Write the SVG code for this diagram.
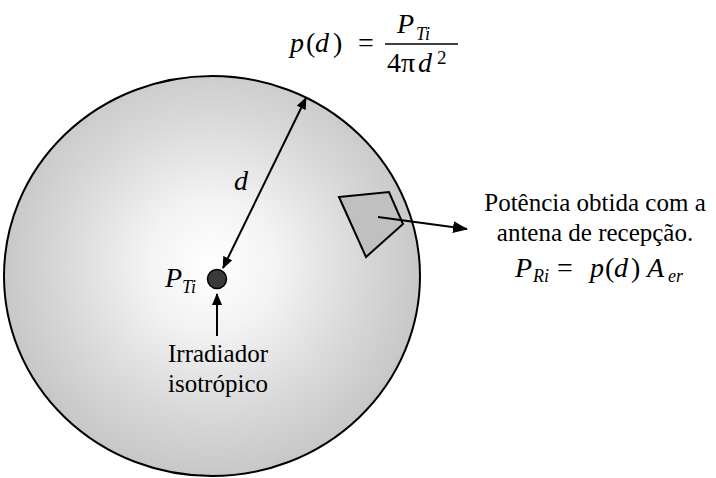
<svg xmlns="http://www.w3.org/2000/svg" width="716" height="478" viewBox="0 0 716 478">
<style>
text{font-family:'Liberation Serif','Times New Roman',serif;fill:#000}
.i{font-style:italic}
.ln{stroke:#000;stroke-width:2;fill:none}
</style>
<defs>
<radialGradient id="g" cx="212" cy="265" r="215" gradientUnits="userSpaceOnUse">
<stop offset="0" stop-color="#ffffff"/>
<stop offset="0.3" stop-color="#f3f3f3"/>
<stop offset="0.7" stop-color="#d8d8d8"/>
<stop offset="1" stop-color="#c6c6c6"/>
</radialGradient>
<marker id="ah" viewBox="0 0 12 10" refX="11" refY="5" markerWidth="12" markerHeight="10" markerUnits="userSpaceOnUse" orient="auto-start-reverse">
<path d="M0,0 L12,5 L0,10 Z" fill="#000"/>
</marker>
<marker id="ah2" viewBox="0 0 15 12" refX="14" refY="6" markerWidth="15" markerHeight="12" markerUnits="userSpaceOnUse" orient="auto">
<path d="M0,0 L15,6 L0,12 Z" fill="#000"/>
</marker>
</defs>
<rect width="716" height="478" fill="#fff"/>
<g id="sphere">
<ellipse cx="212" cy="276" rx="208" ry="200" fill="url(#g)" stroke="#000" stroke-width="2"/>
</g>
<g id="antenna">
<polygon points="339,197 389,192 403,224 366,257" fill="#c0c0c0" stroke="#000" stroke-width="2"/>
</g>
<g id="source">
<circle cx="217" cy="279" r="9.5" fill="#3a3a3a" stroke="#000" stroke-width="1.5"/>
<text class="i" x="165" y="287" font-size="28">P</text>
<text class="i" x="182" y="293" font-size="18">Ti</text>
</g>
<g id="connectors">
<line class="ln" x1="306" y1="98" x2="223" y2="268" marker-start="url(#ah)" marker-end="url(#ah)"/>
<line class="ln" x1="217" y1="336" x2="217" y2="294" marker-end="url(#ah)"/>
<line class="ln" x1="378" y1="217" x2="467" y2="229" marker-end="url(#ah2)"/>
</g>
<g id="label-d">
<text class="i" x="234" y="190" font-size="28">d</text>
</g>
<g id="formula-top">
<text class="i" x="290" y="52" font-size="28">p</text>
<text x="306" y="52" font-size="28">(</text>
<text class="i" x="315" y="52" font-size="28">d</text>
<text x="333" y="52" font-size="28">)</text>
<text x="358" y="52" font-size="28">=</text>
<line x1="385" y1="44" x2="458" y2="44" stroke="#000" stroke-width="1.5"/>
<text class="i" x="397" y="33" font-size="28">P</text>
<text class="i" x="416" y="40" font-size="18">Ti</text>
<text x="387" y="72" font-size="28">4</text>
<text x="401" y="72" font-size="28">π</text>
<text class="i" x="418" y="72" font-size="28">d</text>
<text x="437" y="64" font-size="19">2</text>
</g>
<g id="label-right">
<text x="595" y="211" font-size="25" text-anchor="middle">Potência obtida com a</text>
<text x="595" y="241" font-size="25" text-anchor="middle">antena de recepção.</text>
<text class="i" x="515" y="277" font-size="28">P</text>
<text class="i" x="533" y="282" font-size="18">Ri</text>
<text x="557" y="277" font-size="28">=</text>
<text class="i" x="590" y="277" font-size="28">p</text>
<text x="605" y="277" font-size="28">(</text>
<text class="i" x="614" y="277" font-size="28">d</text>
<text x="631" y="277" font-size="28">)</text>
<text class="i" x="647" y="277" font-size="28">A</text>
<text class="i" x="668" y="282" font-size="18">er</text>
</g>
<g id="label-source">
<text x="218" y="362" font-size="25" text-anchor="middle">Irradiador</text>
<text x="218" y="392" font-size="25" text-anchor="middle">isotrópico</text>
</g>
</svg>
